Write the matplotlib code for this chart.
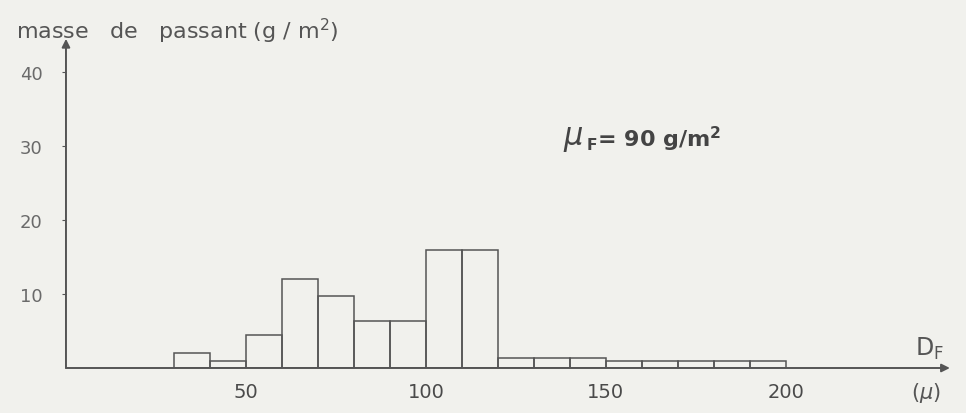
import numpy as np
import matplotlib.pyplot as plt

# histogram (bins of 10 microns)
bin_left = [30, 40, 50, 60, 70, 80, 90, 100, 110, 120, 130, 140, 150, 160, 170, 180, 190]
masse = [2.0, 1.0, 4.4, 12.0, 9.7, 6.4, 6.4, 16.0, 16.0, 1.4, 1.4, 1.4, 1.0, 1.0, 1.0, 1.0, 1.0]
yticks = [10, 20, 30, 40]
xticks = [50, 100, 150, 200]

ink = '#555555'
bg = '#f1f1ed'

fig = plt.figure(figsize=(9.66, 4.14), dpi=100, facecolor=bg)
ax = fig.add_axes([0.0683, 0.1087, 0.915, 0.795])
ax.set_facecolor(bg)

ax.bar(bin_left, masse, width=10, align='edge', fill=False,
       edgecolor=ink, linewidth=1.1)

ax.set_xlim(0, 245.6)
ax.set_ylim(0, 44.5)

for s in ax.spines.values():
  s.set_visible(False)

# axes drawn as arrows
arrow = dict(arrowstyle='-|>', color=ink, lw=1.4, mutation_scale=12, shrinkA=0, shrinkB=0)
ax.annotate('', xy=(0, 1), xytext=(0, 0), xycoords='axes fraction', arrowprops=arrow)
ax.annotate('', xy=(1, 0), xytext=(0, 0), xycoords='axes fraction', arrowprops=arrow)

ax.set_yticks(yticks)
ax.set_yticklabels([str(v) for v in yticks])
ax.set_xticks(xticks)
ax.set_xticklabels([str(v) for v in xticks])
ax.tick_params(axis='y', length=3, color=ink, labelcolor='#6a6a6a', labelsize=13, pad=14)
ax.tick_params(axis='x', length=0, labelcolor='#4a4a4a', labelsize=14, pad=10)

fig.text(0.017, 0.925, 'masse   de   passant $($g / m$^2)$', fontsize=16, color='#555555',
         ha='left', va='center')

ax.text(138, 31, r'$\mu$', fontsize=22, color='#444444', ha='left', va='center')
ax.text(144.5, 31, r'$_{\mathbf{F}}$= 90 g/m$^{\mathbf{2}}$', fontsize=16, color='#444444',
        fontweight='bold', ha='left', va='center')

ax.text(240, 1.0, r'D$_\mathrm{F}$', fontsize=17, color=ink, ha='center', va='bottom')
ax.text(239, -3.3, r'$(\mu)$', fontsize=15, color=ink, ha='center', va='center')

fig.savefig('out.png', dpi=100, facecolor=bg)
